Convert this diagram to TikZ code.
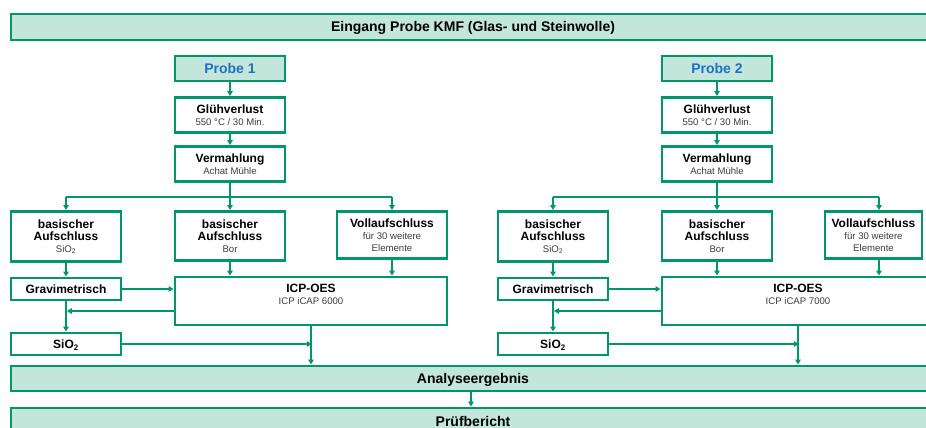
\documentclass[tikz,border=0pt]{standalone}
\usepackage{fontspec}
\setmainfont{Liberation Sans}
\usetikzlibrary{arrows.meta}
\definecolor{gr}{RGB}{0,150,108}
\definecolor{fillc}{RGB}{195,230,218}
\definecolor{probeblue}{RGB}{30,112,200}
\definecolor{smallgrey}{RGB}{60,60,60}
\newcommand{\bigf}{\fontsize{12}{14}\selectfont\bfseries}
\newcommand{\barf}{\fontsize{14}{16}\selectfont\bfseries}
\newcommand{\smf}{\fontsize{9.6}{12}\selectfont\color{smallgrey}}
\begin{document}
\begin{tikzpicture}[x=1pt,y=-1pt,
  box/.style={draw=gr, line width=2.9pt, fill=white, inner sep=0pt, align=center, text=black},
  one/.style={text height=8.6pt, text depth=0pt},
  bar/.style={box, fill=fillc, font=\barf, text height=10pt, text depth=0pt},
  arr/.style={draw=gr, line width=1.9pt, -{Triangle[length=5pt,width=5.5pt]}},
  ln/.style={draw=gr, line width=1.9pt}]
\useasboundingbox (0,0) rectangle (926,428);
\clip (0,0) rectangle (926,428);
\fill[white] (0,0) rectangle (926,428);

\node[bar, minimum width=924, minimum height=26] (top) at (473,27) {Eingang Probe KMF (Glas- und Steinwolle)};
\node[bar, minimum width=924, minimum height=25] (an) at (473,378.5) {Analyseergebnis};
\node[bar, minimum width=924, minimum height=26] (pb) at (473,421) {Prüfbericht};
\coordinate (ax) at (471,400);
\draw[arr] (an.south -| ax) -- (pb.north -| ax);

\foreach \s/\o/\icap/\cw/\cc in {1/0/6000/110/392, 2/487/7000/97/873.5}{
  \node[box, fill=fillc, minimum width=110, minimum height=25, font=\fontsize{14}{16}\selectfont\bfseries, text=probeblue, text height=10pt, text depth=0pt] (p\s) at (230+\o,68.5) {Probe \s};
  \node[box, minimum width=110, minimum height=35] (g\s) at (230+\o,115) {{\bigf Glühverlust}\\{\smf 550 °C / 30 Min.}};
  \node[box, minimum width=110, minimum height=35] (v\s) at (230+\o,164) {{\bigf Vermahlung}\\{\smf Achat Mühle}};
  \node[box, minimum width=110, minimum height=50] (a\s) at (66+\o,236.5) {{\bigf basischer}\\{\bigf Aufschluss}\\{\smf SiO\textsubscript{2}}};
  \node[box, minimum width=110, minimum height=49] (b\s) at (230+\o,236) {{\bigf basischer}\\{\bigf Aufschluss}\\{\smf Bor}};
  \node[box, minimum width=\cw, minimum height=47] (c\s) at (\cc,235) {{\bigf Vollaufschluss}\\{\smf für 30 weitere}\\{\smf Elemente}};
  \node[box, one, minimum width=110, minimum height=22, font=\bigf] (gv\s) at (66+\o,289) {Gravimetrisch};
  \node[box, minimum width=272, minimum height=48,
        label={[anchor=north, yshift=-8pt, align=center, inner sep=0pt]north:{{\bigf ICP-OES}\\{\smf ICP iCAP \icap}}}] (icp\s) at (311+\o,301) {};
  \node[box, one, minimum width=110, minimum height=22, font=\bigf] (si\s) at (66+\o,344) {SiO\textsubscript{2}};

  \coordinate (br\s) at (230+\o,197);
  \coordinate (cx\s) at (392+\o,197);
  \coordinate (k\s) at (66+\o,311);
  \coordinate (m\s) at (311+\o,344);

  \draw[arr] (p\s) -- (g\s);
  \draw[arr] (g\s) -- (v\s);
  \draw[arr] (v\s) -- (b\s);
  \draw[ln] (a\s.north |- br\s) -- (cx\s);
  \draw[arr] (a\s.north |- br\s) -- (a\s.north);
  \draw[arr] (cx\s) -- (cx\s |- c\s.north);
  \draw[arr] (a\s) -- (gv\s);
  \draw[arr] (b\s) -- (b\s.south |- icp\s.north);
  \draw[arr] (cx\s |- c\s.south) -- (cx\s |- icp\s.north);
  \draw[arr] (gv\s.east) -- (gv\s.east -| icp\s.west);
  \draw[arr, shorten >=0.9pt] (icp\s.west |- k\s) -- (k\s);
  \draw[arr] (gv\s) -- (si\s);
  \draw[arr, shorten >=-0.9pt] (si\s.east) -- (m\s);
  \draw[arr] (icp\s.south) -- (icp\s.south |- an.north);
}
\end{tikzpicture}
\end{document}
